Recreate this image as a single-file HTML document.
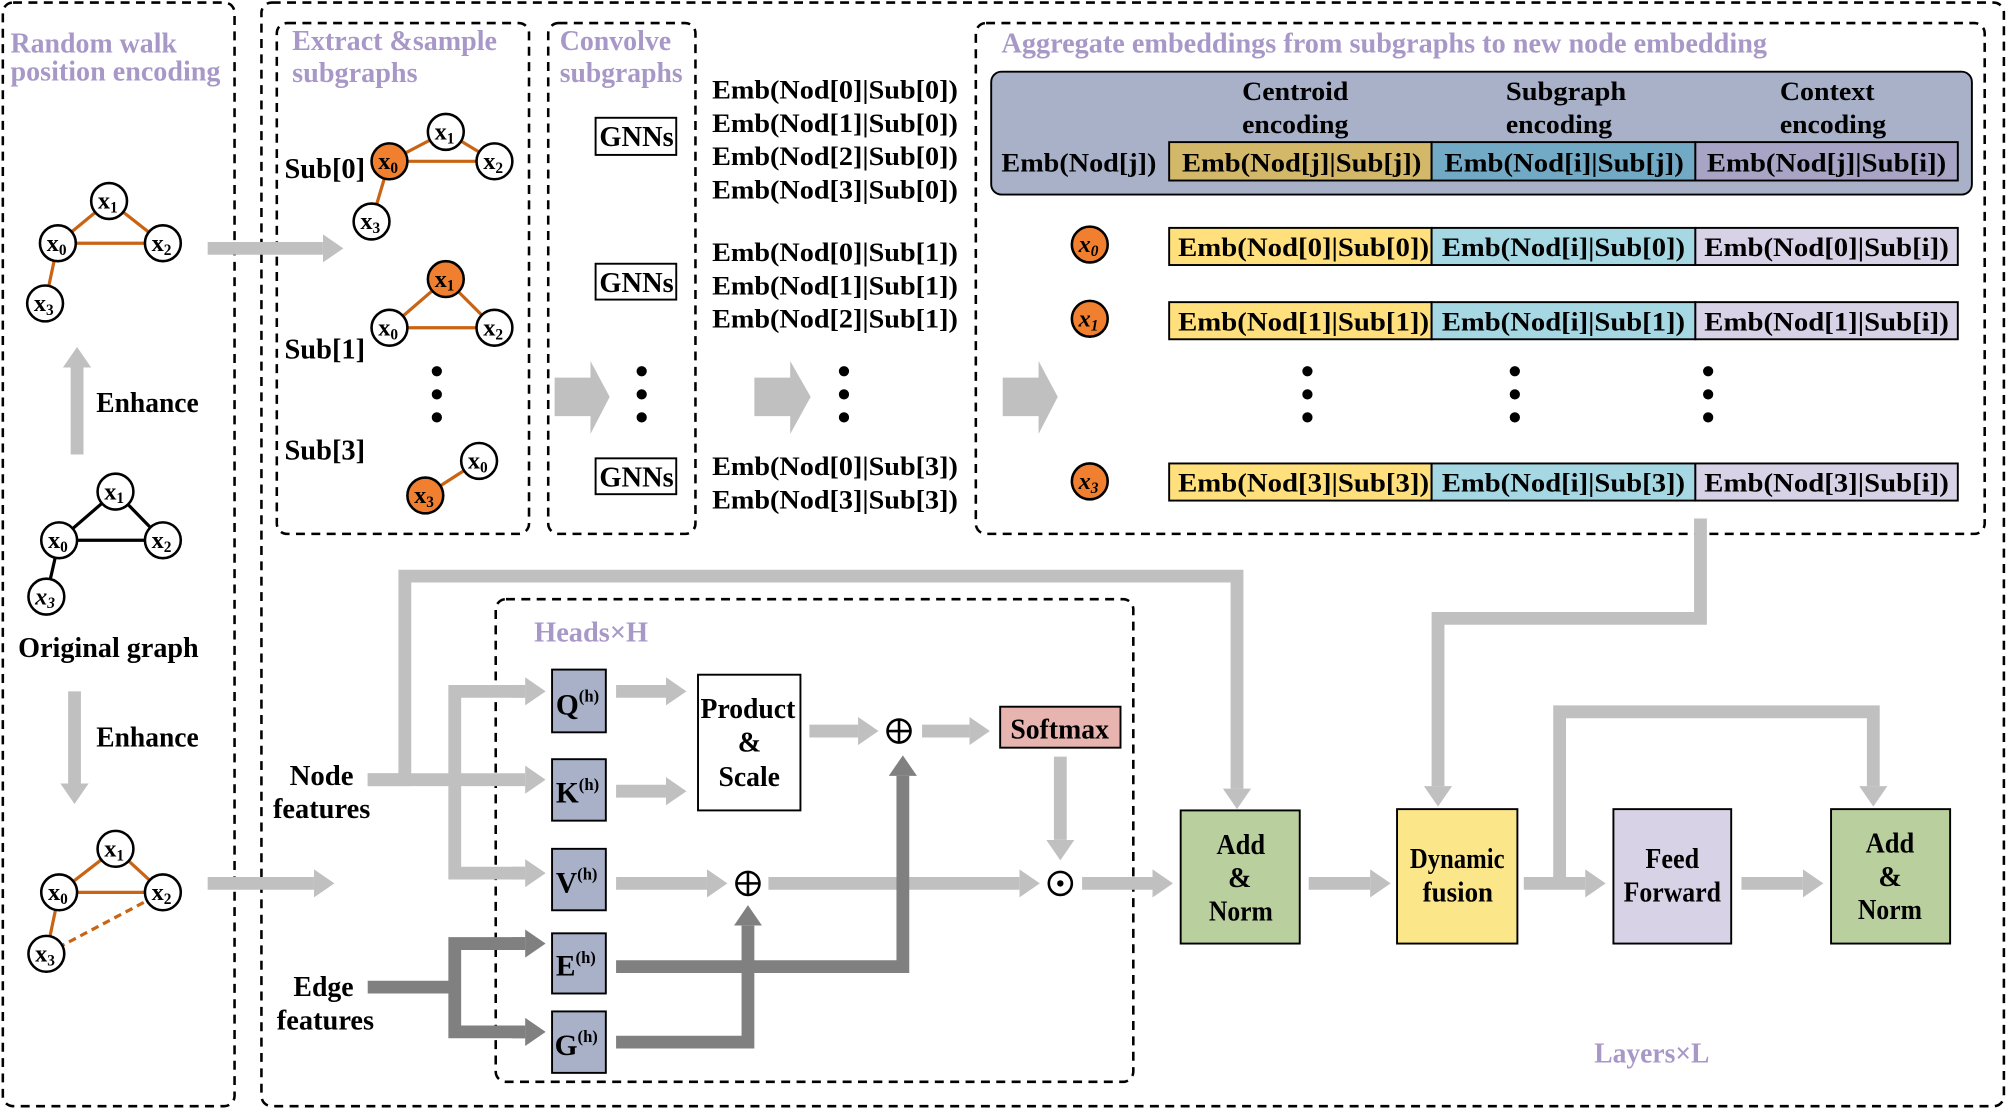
<!DOCTYPE html>
<html><head><meta charset="utf-8"><style>
html,body{margin:0;padding:0;background:#fff;}
svg{display:block;}
text{font-family:"Liberation Serif",serif;font-weight:bold;fill:#000;}
.p{fill:#a898c8;}
</style></head><body>
<svg width="2008" height="1110" viewBox="0 0 1568 867" xmlns="http://www.w3.org/2000/svg">
<defs>
<marker id="ag" markerUnits="userSpaceOnUse" markerWidth="16" markerHeight="22" refX="0" refY="11" orient="auto"><path d="M0,0 L16,11 L0,22 z" fill="#c0c0c0"/></marker>
<marker id="ad" markerUnits="userSpaceOnUse" markerWidth="16" markerHeight="22" refX="0" refY="11" orient="auto"><path d="M0,0 L16,11 L0,22 z" fill="#808080"/></marker>
</defs>
<g fill="none" stroke="#000" stroke-width="2" stroke-dasharray="7,5">
<rect x="2" y="2" width="181" height="862" rx="8"/>
<rect x="204" y="2" width="1361" height="862" rx="8"/>
<rect x="216" y="18" width="197" height="399" rx="8"/>
<rect x="428" y="18" width="115" height="399" rx="8"/>
<rect x="762" y="18" width="788" height="399" rx="8"/>
<rect x="387" y="468" width="498" height="377" rx="8"/>
</g>
<g font-size="22" lengthAdjust="spacingAndGlyphs">
<text class="p" x="8" y="41" textLength="130" lengthAdjust="spacingAndGlyphs">Random walk</text>
<text class="p" x="8" y="63" textLength="164" lengthAdjust="spacingAndGlyphs">position encoding</text>
<text class="p" x="228" y="39" textLength="160" lengthAdjust="spacingAndGlyphs">Extract &amp;sample</text>
<text class="p" x="228" y="64" textLength="98" lengthAdjust="spacingAndGlyphs">subgraphs</text>
<text class="p" x="437" y="39" textLength="87" lengthAdjust="spacingAndGlyphs">Convolve</text>
<text class="p" x="437" y="64" textLength="96" lengthAdjust="spacingAndGlyphs">subgraphs</text>
<text class="p" x="782" y="41" textLength="598" lengthAdjust="spacingAndGlyphs">Aggregate embeddings from subgraphs to new node embedding</text>
<text class="p" x="417" y="501" textLength="89" lengthAdjust="spacingAndGlyphs">Heads×H</text>
<text class="p" x="1245" y="830" textLength="90" lengthAdjust="spacingAndGlyphs">Layers×L</text>
</g>
<g stroke="#c86414" stroke-width="2.5">
<line x1="85" y1="157" x2="45" y2="190"/><line x1="85" y1="157" x2="127" y2="190"/><line x1="45" y1="190" x2="127" y2="190"/><line x1="45" y1="190" x2="35" y2="237"/>
<line x1="90" y1="663" x2="46" y2="697"/><line x1="90" y1="663" x2="127" y2="697"/><line x1="46" y1="697" x2="127" y2="697"/><line x1="46" y1="697" x2="36" y2="745"/>
<line x1="36" y1="745" x2="127" y2="697" stroke-dasharray="6,4"/>
<line x1="348" y1="103" x2="304" y2="126"/><line x1="348" y1="103" x2="386" y2="126"/><line x1="304" y1="126" x2="386" y2="126"/><line x1="304" y1="126" x2="290" y2="173"/>
<line x1="348" y1="218" x2="304" y2="256"/><line x1="348" y1="218" x2="386" y2="256"/><line x1="304" y1="256" x2="386" y2="256"/>
<line x1="374" y1="360" x2="332" y2="387"/>
</g>
<g stroke="#000" stroke-width="2.5">
<line x1="90" y1="384" x2="46" y2="422"/><line x1="90" y1="384" x2="127" y2="422"/><line x1="46" y1="422" x2="127" y2="422"/><line x1="46" y1="422" x2="36" y2="466"/>
</g>
<g stroke="#000" stroke-width="2">
<circle cx="85" cy="157" r="14" fill="#fff"/><circle cx="45" cy="190" r="14" fill="#fff"/><circle cx="127" cy="190" r="14" fill="#fff"/><circle cx="35" cy="237" r="14" fill="#fff"/>
<circle cx="90" cy="384" r="14" fill="#fff"/><circle cx="46" cy="422" r="14" fill="#fff"/><circle cx="127" cy="422" r="14" fill="#fff"/><circle cx="36" cy="466" r="14" fill="#fff"/>
<circle cx="90" cy="663" r="14" fill="#fff"/><circle cx="46" cy="697" r="14" fill="#fff"/><circle cx="127" cy="697" r="14" fill="#fff"/><circle cx="36" cy="745" r="14" fill="#fff"/>
<circle cx="348" cy="103" r="14" fill="#fff"/><circle cx="304" cy="126" r="14" fill="#f08030"/><circle cx="386" cy="126" r="14" fill="#fff"/><circle cx="290" cy="173" r="14" fill="#fff"/>
<circle cx="348" cy="218" r="14" fill="#f08030"/><circle cx="304" cy="256" r="14" fill="#fff"/><circle cx="386" cy="256" r="14" fill="#fff"/>
<circle cx="374" cy="360" r="14" fill="#fff"/><circle cx="332" cy="387" r="14" fill="#f08030"/>
<circle cx="851" cy="191" r="14" fill="#f08030"/><circle cx="851" cy="249" r="14" fill="#f08030"/><circle cx="851" cy="376" r="14" fill="#f08030"/>
</g>
<g font-size="19" text-anchor="middle">
<text x="84" y="163">x<tspan font-size="12" dy="3">1</tspan></text>
<text x="44" y="196">x<tspan font-size="12" dy="3">0</tspan></text>
<text x="126" y="196">x<tspan font-size="12" dy="3">2</tspan></text>
<text x="34" y="243">x<tspan font-size="12" dy="3">3</tspan></text>
<text x="89" y="390">x<tspan font-size="12" dy="3">1</tspan></text>
<text x="45" y="428">x<tspan font-size="12" dy="3">0</tspan></text>
<text x="126" y="428">x<tspan font-size="12" dy="3">2</tspan></text>
<text x="35" y="472" font-style="italic">x<tspan font-size="12" dy="3">3</tspan></text>
<text x="89" y="669">x<tspan font-size="12" dy="3">1</tspan></text>
<text x="45" y="703">x<tspan font-size="12" dy="3">0</tspan></text>
<text x="126" y="703">x<tspan font-size="12" dy="3">2</tspan></text>
<text x="35" y="751">x<tspan font-size="12" dy="3">3</tspan></text>
<text x="347" y="109">x<tspan font-size="12" dy="3">1</tspan></text>
<text x="303" y="132">x<tspan font-size="12" dy="3">0</tspan></text>
<text x="385" y="132">x<tspan font-size="12" dy="3">2</tspan></text>
<text x="289" y="179">x<tspan font-size="12" dy="3">3</tspan></text>
<text x="347" y="224">x<tspan font-size="12" dy="3">1</tspan></text>
<text x="303" y="262">x<tspan font-size="12" dy="3">0</tspan></text>
<text x="385" y="262">x<tspan font-size="12" dy="3">2</tspan></text>
<text x="373" y="366">x<tspan font-size="12" dy="3">0</tspan></text>
<text x="331" y="393">x<tspan font-size="12" dy="3">3</tspan></text>
<text x="850" y="197" font-style="italic">x<tspan font-size="12" dy="3">0</tspan></text>
<text x="850" y="255" font-style="italic">x<tspan font-size="12" dy="3">1</tspan></text>
<text x="850" y="382" font-style="italic">x<tspan font-size="12" dy="3">3</tspan></text>
</g>
<g font-size="22">
<text x="75" y="322" textLength="80" lengthAdjust="spacingAndGlyphs">Enhance</text>
<text x="14" y="513" textLength="141" lengthAdjust="spacingAndGlyphs">Original graph</text>
<text x="75" y="583" textLength="80" lengthAdjust="spacingAndGlyphs">Enhance</text>
<text x="222" y="139" textLength="63" lengthAdjust="spacingAndGlyphs">Sub[0]</text>
<text x="222" y="280" textLength="63" lengthAdjust="spacingAndGlyphs">Sub[1]</text>
<text x="222" y="359" textLength="63" lengthAdjust="spacingAndGlyphs">Sub[3]</text>
</g>
<g stroke="#c0c0c0" stroke-width="10" fill="none">
<line x1="60" y1="355" x2="60" y2="287" marker-end="url(#ag)"/>
<line x1="58" y1="540" x2="58" y2="612" marker-end="url(#ag)"/>
<line x1="162" y1="194" x2="252" y2="194" marker-end="url(#ag)"/>
<line x1="162" y1="690" x2="245" y2="690" marker-end="url(#ag)"/>
</g>
<g fill="#000">
<circle cx="341" cy="290" r="4"/><circle cx="341" cy="308" r="4"/><circle cx="341" cy="326" r="4"/>
<circle cx="501" cy="290" r="4"/><circle cx="501" cy="308" r="4"/><circle cx="501" cy="326" r="4"/>
<circle cx="659" cy="290" r="4"/><circle cx="659" cy="308" r="4"/><circle cx="659" cy="326" r="4"/>
<circle cx="1021" cy="290" r="4"/><circle cx="1021" cy="308" r="4"/><circle cx="1021" cy="326" r="4"/>
<circle cx="1183" cy="290" r="4"/><circle cx="1183" cy="308" r="4"/><circle cx="1183" cy="326" r="4"/>
<circle cx="1334" cy="290" r="4"/><circle cx="1334" cy="308" r="4"/><circle cx="1334" cy="326" r="4"/>
</g>
<g fill="#c0c0c0">
<polygon points="433,295 461,295 461,282 476,310 461,339 461,325 433,325"/>
<polygon points="589,295 617,295 617,282 633,310 617,339 617,325 589,325"/>
<polygon points="783,295 811,295 811,282 826,310 811,339 811,325 783,325"/>
</g>
<g fill="#fff" stroke="#000" stroke-width="1.5">
<rect x="465" y="92" width="63" height="29"/><rect x="465" y="206" width="63" height="28"/><rect x="465" y="358" width="63" height="28"/>
</g>
<g font-size="22">
<text x="468" y="114" textLength="58" lengthAdjust="spacingAndGlyphs">GNNs</text>
<text x="468" y="228" textLength="58" lengthAdjust="spacingAndGlyphs">GNNs</text>
<text x="468" y="380" textLength="58" lengthAdjust="spacingAndGlyphs">GNNs</text>
</g>
<g font-size="21">
<text x="556" y="77" textLength="192" lengthAdjust="spacingAndGlyphs">Emb(Nod[0]|Sub[0])</text>
<text x="556" y="103" textLength="192" lengthAdjust="spacingAndGlyphs">Emb(Nod[1]|Sub[0])</text>
<text x="556" y="129" textLength="192" lengthAdjust="spacingAndGlyphs">Emb(Nod[2]|Sub[0])</text>
<text x="556" y="155" textLength="192" lengthAdjust="spacingAndGlyphs">Emb(Nod[3]|Sub[0])</text>
<text x="556" y="204" textLength="192" lengthAdjust="spacingAndGlyphs">Emb(Nod[0]|Sub[1])</text>
<text x="556" y="230" textLength="192" lengthAdjust="spacingAndGlyphs">Emb(Nod[1]|Sub[1])</text>
<text x="556" y="256" textLength="192" lengthAdjust="spacingAndGlyphs">Emb(Nod[2]|Sub[1])</text>
<text x="556" y="371" textLength="192" lengthAdjust="spacingAndGlyphs">Emb(Nod[0]|Sub[3])</text>
<text x="556" y="397" textLength="192" lengthAdjust="spacingAndGlyphs">Emb(Nod[3]|Sub[3])</text>
</g>
<rect x="774" y="56" width="766" height="96" rx="8" fill="#a8b1c8" stroke="#000" stroke-width="1.5"/>
<g stroke="#000" stroke-width="1.5">
<rect x="913" y="111" width="205" height="30" fill="#d4b86a"/><rect x="1118" y="111" width="206" height="30" fill="#72a9c4"/><rect x="1324" y="111" width="205" height="30" fill="#a8a4c6"/>
<rect x="913" y="178" width="205" height="29" fill="#ffe07c"/><rect x="1118" y="178" width="206" height="29" fill="#a6d8e4"/><rect x="1324" y="178" width="205" height="29" fill="#d8d2e6"/>
<rect x="913" y="236" width="205" height="29" fill="#ffe07c"/><rect x="1118" y="236" width="206" height="29" fill="#a6d8e4"/><rect x="1324" y="236" width="205" height="29" fill="#d8d2e6"/>
<rect x="913" y="362" width="205" height="29" fill="#ffe07c"/><rect x="1118" y="362" width="206" height="29" fill="#a6d8e4"/><rect x="1324" y="362" width="205" height="29" fill="#d8d2e6"/>
</g>
<g font-size="21">
<text x="970" y="78" textLength="83" lengthAdjust="spacingAndGlyphs">Centroid</text>
<text x="970" y="104" textLength="83" lengthAdjust="spacingAndGlyphs">encoding</text>
<text x="1176" y="78" textLength="94" lengthAdjust="spacingAndGlyphs">Subgraph</text>
<text x="1176" y="104" textLength="83" lengthAdjust="spacingAndGlyphs">encoding</text>
<text x="1390" y="78" textLength="74" lengthAdjust="spacingAndGlyphs">Context</text>
<text x="1390" y="104" textLength="83" lengthAdjust="spacingAndGlyphs">encoding</text>
</g>
<g font-size="21">
<text x="782" y="134" textLength="121" lengthAdjust="spacingAndGlyphs">Emb(Nod[j])</text>
<text x="923" y="134" textLength="187" lengthAdjust="spacingAndGlyphs">Emb(Nod[j]|Sub[j])</text>
<text x="1128" y="134" textLength="187" lengthAdjust="spacingAndGlyphs">Emb(Nod[i]|Sub[j])</text>
<text x="1333" y="134" textLength="187" lengthAdjust="spacingAndGlyphs">Emb(Nod[j]|Sub[i])</text>
<text x="920" y="200" textLength="196" lengthAdjust="spacingAndGlyphs">Emb(Nod[0]|Sub[0])</text>
<text x="1126" y="200" textLength="190" lengthAdjust="spacingAndGlyphs">Emb(Nod[i]|Sub[0])</text>
<text x="1331" y="200" textLength="191" lengthAdjust="spacingAndGlyphs">Emb(Nod[0]|Sub[i])</text>
<text x="920" y="258" textLength="196" lengthAdjust="spacingAndGlyphs">Emb(Nod[1]|Sub[1])</text>
<text x="1126" y="258" textLength="190" lengthAdjust="spacingAndGlyphs">Emb(Nod[i]|Sub[1])</text>
<text x="1331" y="258" textLength="191" lengthAdjust="spacingAndGlyphs">Emb(Nod[1]|Sub[i])</text>
<text x="920" y="384" textLength="196" lengthAdjust="spacingAndGlyphs">Emb(Nod[3]|Sub[3])</text>
<text x="1126" y="384" textLength="190" lengthAdjust="spacingAndGlyphs">Emb(Nod[i]|Sub[3])</text>
<text x="1331" y="384" textLength="191" lengthAdjust="spacingAndGlyphs">Emb(Nod[3]|Sub[i])</text>
</g>
<g stroke="#c0c0c0" stroke-width="10" fill="none">
<polyline points="1328,405 1328,483 1123,483 1123,614" marker-end="url(#ag)"/>
<polyline points="287,609 316,609 316,450 966,450 966,616" marker-end="url(#ag)"/>
<line x1="287" y1="609" x2="410" y2="609" marker-end="url(#ag)"/>
<polyline points="410,540 355,540 355,682 410,682" />
<line x1="400" y1="540" x2="410" y2="540" marker-end="url(#ag)"/>
<line x1="400" y1="682" x2="410" y2="682" marker-end="url(#ag)"/>
<line x1="481" y1="540" x2="520" y2="540" marker-end="url(#ag)"/>
<line x1="481" y1="618" x2="520" y2="618" marker-end="url(#ag)"/>
<line x1="632" y1="571" x2="670" y2="571" marker-end="url(#ag)"/>
<line x1="720" y1="571" x2="757" y2="571" marker-end="url(#ag)"/>
<line x1="828" y1="591" x2="828" y2="656" marker-end="url(#ag)"/>
<line x1="481" y1="690" x2="552" y2="690" marker-end="url(#ag)"/>
<line x1="600" y1="690" x2="796" y2="690" marker-end="url(#ag)"/>
<line x1="845" y1="690" x2="900" y2="690" marker-end="url(#ag)"/>
<line x1="1022" y1="690" x2="1070" y2="690" marker-end="url(#ag)"/>
<line x1="1190" y1="690" x2="1238" y2="690" marker-end="url(#ag)"/>
<polyline points="1218,690 1218,556 1463,556 1463,614" marker-end="url(#ag)"/>
<line x1="1360" y1="690" x2="1408" y2="690" marker-end="url(#ag)"/>
</g>
<g stroke="#808080" stroke-width="10" fill="none">
<polyline points="287,771 355,771"/>
<polyline points="410,737 355,737 355,806 410,806"/>
<line x1="400" y1="737" x2="410" y2="737" marker-end="url(#ad)"/>
<line x1="400" y1="806" x2="410" y2="806" marker-end="url(#ad)"/>
<polyline points="481,755 705,755 705,606" marker-end="url(#ad)"/>
<polyline points="481,814 584,814 584,723" marker-end="url(#ad)"/>
</g>
<g stroke="#000" stroke-width="1.5">
<rect x="431" y="523" width="42" height="49" fill="#a8b1c8"/>
<rect x="431" y="593" width="42" height="48" fill="#a8b1c8"/>
<rect x="431" y="663" width="42" height="48" fill="#a8b1c8"/>
<rect x="431" y="729" width="42" height="47" fill="#a8b1c8"/>
<rect x="431" y="790" width="42" height="48" fill="#a8b1c8"/>
<rect x="545" y="527" width="80" height="106" fill="#fff"/>
<rect x="781" y="552" width="94" height="32" fill="#e8b4b0"/>
<rect x="922" y="633" width="93" height="104" fill="#b9cf9e"/>
<rect x="1091" y="632" width="94" height="105" fill="#fce68a"/>
<rect x="1260" y="632" width="92" height="105" fill="#d8d2e6"/>
<rect x="1430" y="632" width="93" height="105" fill="#b9cf9e"/>
</g>
<g font-size="23">
<text x="434" y="558">Q<tspan font-size="13" dy="-10">(h)</tspan></text>
<text x="434" y="627">K<tspan font-size="13" dy="-10">(h)</tspan></text>
<text x="434" y="697">V<tspan font-size="13" dy="-10">(h)</tspan></text>
<text x="434" y="762">E<tspan font-size="13" dy="-10">(h)</tspan></text>
<text x="433" y="824">G<tspan font-size="13" dy="-10">(h)</tspan></text>
</g>
<g font-size="22">
<text x="547" y="561" textLength="74" lengthAdjust="spacingAndGlyphs">Product</text>
<text x="576" y="587">&amp;</text>
<text x="561" y="614" textLength="48" lengthAdjust="spacingAndGlyphs">Scale</text>
<text x="789" y="577" textLength="77" lengthAdjust="spacingAndGlyphs">Softmax</text>
<text x="226" y="613" textLength="50" lengthAdjust="spacingAndGlyphs">Node</text>
<text x="213" y="639" textLength="76" lengthAdjust="spacingAndGlyphs">features</text>
<text x="229" y="778" textLength="47" lengthAdjust="spacingAndGlyphs">Edge</text>
<text x="216" y="804" textLength="76" lengthAdjust="spacingAndGlyphs">features</text>
<text x="950" y="667" textLength="38" lengthAdjust="spacingAndGlyphs">Add</text>
<text x="959" y="693">&amp;</text>
<text x="944" y="719" textLength="50" lengthAdjust="spacingAndGlyphs">Norm</text>
<text x="1101" y="678" textLength="74" lengthAdjust="spacingAndGlyphs">Dynamic</text>
<text x="1111" y="704" textLength="55" lengthAdjust="spacingAndGlyphs">fusion</text>
<text x="1285" y="678" textLength="42" lengthAdjust="spacingAndGlyphs">Feed</text>
<text x="1268" y="704" textLength="76" lengthAdjust="spacingAndGlyphs">Forward</text>
<text x="1457" y="666" textLength="38" lengthAdjust="spacingAndGlyphs">Add</text>
<text x="1467" y="692">&amp;</text>
<text x="1451" y="718" textLength="50" lengthAdjust="spacingAndGlyphs">Norm</text>
</g>
<g stroke="#000" stroke-width="2" fill="#fff">
<circle cx="702" cy="571" r="9"/><circle cx="584" cy="690" r="9"/><circle cx="828" cy="690" r="9"/>
</g>
<g stroke="#000" stroke-width="2">
<line x1="693" y1="571" x2="711" y2="571"/><line x1="702" y1="562" x2="702" y2="580"/>
<line x1="575" y1="690" x2="593" y2="690"/><line x1="584" y1="681" x2="584" y2="699"/>
</g>
<circle cx="828" cy="690" r="2.5" fill="#000"/>
</svg>
</body></html>
